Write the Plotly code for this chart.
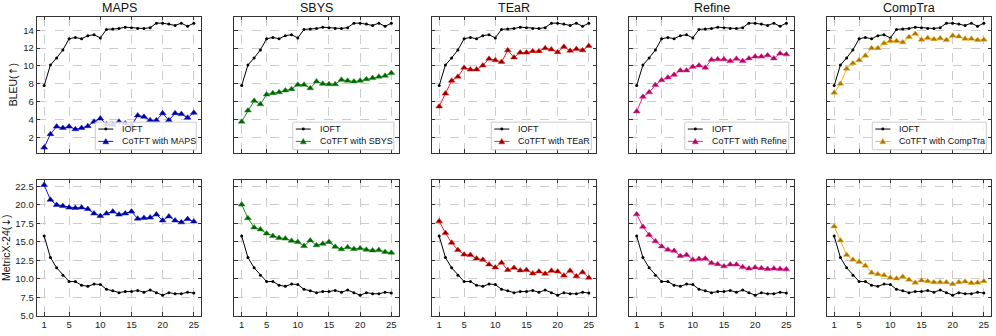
import plotly.graph_objects as go

epochs = list(range(1, 26))
methods = ["MAPS", "SBYS", "TEaR", "Refine", "CompTra"]

# IOFT baseline (same in every panel)
ioft_bleu = [7.8, 10.1, 10.9, 11.8, 13.05, 13.2, 13.05, 13.4, 13.5, 13.15,
             14.1, 14.15, 14.2, 14.35, 14.3, 14.2, 14.2, 14.3, 14.8, 14.8,
             14.7, 14.55, 14.8, 14.45, 14.8]
ioft_metricx = [15.8, 12.9, 11.5, 10.5, 9.65, 9.65, 9.15, 9.0, 9.3, 9.25,
                8.6, 8.4, 8.15, 8.3, 8.3, 8.45, 8.2, 8.5, 8.15, 7.8,
                8.15, 8.0, 8.0, 8.2, 8.1]

# CoTFT runs
maps_bleu = [0.85, 2.35, 3.2, 3.05, 3.2, 2.9, 3.05, 3.25, 3.75, 4.1,
             3.45, 3.4, 3.75, 3.55, 3.3, 4.45, 4.3, 3.9, 3.9, 4.7,
             3.9, 4.7, 4.6, 4.2, 4.75]
maps_metricx = [22.7, 20.7, 20.0, 19.85, 19.65, 19.6, 19.65, 19.45, 18.85, 18.5,
                18.85, 19.1, 18.7, 18.85, 19.1, 18.15, 18.25, 18.3, 18.7, 17.9,
                18.45, 17.9, 17.65, 18.1, 17.75]
sbys_bleu = [3.75, 5.0, 6.1, 5.7, 6.8, 6.95, 7.05, 7.25, 7.4, 7.9,
             7.9, 7.5, 8.25, 8.0, 7.95, 7.95, 8.45, 8.35, 8.25, 8.35,
             8.5, 8.65, 8.8, 8.9, 9.2]
sbys_metricx = [20.05, 18.2, 16.95, 16.7, 16.15, 15.8, 15.55, 15.45, 15.15, 15.0,
                14.45, 15.2, 14.55, 14.75, 15.0, 14.35, 14.0, 14.3, 14.05, 14.15,
                13.95, 13.85, 13.9, 13.65, 13.55]
tear_bleu = [5.45, 6.9, 8.35, 8.8, 9.8, 9.6, 9.6, 10.05, 10.8, 10.65,
             10.45, 11.75, 10.95, 11.5, 11.5, 11.65, 11.65, 12.0, 11.85, 11.55,
             12.15, 11.7, 11.9, 11.75, 12.25]
tear_metricx = [17.8, 16.2, 14.9, 13.9, 13.3, 13.25, 12.75, 12.6, 11.95, 11.55,
                12.2, 11.2, 11.5, 11.15, 11.2, 10.75, 11.0, 10.7, 11.1, 11.0,
                10.45, 11.1, 10.35, 10.9, 10.15]
refine_bleu = [4.9, 6.55, 7.05, 7.85, 8.4, 8.7, 9.0, 9.5, 9.5, 9.9,
               10.05, 9.8, 10.7, 10.75, 10.75, 10.55, 10.8, 10.55, 10.85, 11.05,
               11.05, 11.2, 10.85, 11.4, 11.3]
refine_metricx = [18.75, 17.05, 15.95, 15.1, 14.4, 13.95, 13.8, 13.1, 13.25, 12.6,
                  12.7, 12.75, 12.15, 12.0, 11.7, 11.95, 11.95, 11.6, 11.4, 11.55,
                  11.45, 11.35, 11.4, 11.35, 11.3]
comptra_bleu = [7.0, 8.0, 9.7, 10.3, 10.65, 11.15, 12.0, 12.0, 12.55, 12.8,
                12.8, 12.65, 13.25, 13.6, 12.95, 13.15, 13.0, 13.1, 12.9, 13.4,
                13.3, 13.05, 13.05, 12.9, 12.95]
comptra_metricx = [17.1, 15.2, 13.25, 12.6, 12.3, 11.8, 10.85, 10.65, 10.5, 10.15,
                   10.05, 10.3, 9.9, 9.5, 9.8, 9.7, 9.55, 9.55, 9.55, 9.3,
                   9.55, 9.65, 9.45, 9.5, 9.7]

bleu = [maps_bleu, sbys_bleu, tear_bleu, refine_bleu, comptra_bleu]
metricx = [maps_metricx, sbys_metricx, tear_metricx, refine_metricx, comptra_metricx]
line_colors = ["#1414e6", "#1e8c1e", "#ff1a1a", "#ff1a8c", "#ffae1a"]
marker_colors = ["#00008b", "#006400", "#8b0000", "#9b1060", "#a0780a"]

W, H = 996, 336
FONT = "Liberation Sans, DejaVu Sans, sans-serif"
ARROW = '<span style="font-family:DejaVu Sans">{}</span>'

fig = go.Figure()

x_left = [36.7 + i * 197.5 for i in range(5)]
pw = 164.6
rows_px = [(17, 155), (182.3, 320.7)]
yranges = [[0.27, 15.52], [5.0, 23.43]]
ytitles = ["BLEU(" + ARROW.format("↑") + ")", "MetricX-24(" + ARROW.format("↓") + ")"]
legend_w = [101, 101, 100, 104, 114]

layout = {}
for r in range(2):
    for c in range(5):
        k = r * 5 + c + 1
        xa = "xaxis" if k == 1 else f"xaxis{k}"
        ya = "yaxis" if k == 1 else f"yaxis{k}"
        xs = "x" if k == 1 else f"x{k}"
        ys = "y" if k == 1 else f"y{k}"
        series = bleu[c] if r == 0 else metricx[c]
        base = ioft_bleu if r == 0 else ioft_metricx
        fig.add_trace(go.Scatter(
            x=epochs, y=base, mode="lines+markers", name="IOFT",
            line=dict(color="black", width=1), marker=dict(symbol="circle", size=3, color="black"),
            xaxis=xs, yaxis=ys, showlegend=False))
        fig.add_trace(go.Scatter(
            x=epochs, y=series, mode="lines+markers", name=f"CoTFT with {methods[c]}",
            line=dict(color=line_colors[c], width=1),
            marker=dict(symbol="triangle-up", size=6, color=marker_colors[c],
                        line=dict(color=line_colors[c], width=0.5)),
            xaxis=xs, yaxis=ys, showlegend=False))

        axis_common = dict(
            showline=True, linecolor="#333333", linewidth=1, mirror="allticks",
            ticks="inside", ticklen=3.5, tickcolor="#333333",
            showgrid=True, gridcolor="#cccccc", griddash="dash", gridwidth=0.8,
            zeroline=False, tickfont=dict(size=9.5, color="#222222", family=FONT))
        layout[xa] = dict(
            axis_common, anchor=ys,
            domain=[x_left[c] / W, (x_left[c] + pw) / W],
            range=[-0.2, 26.2], tickvals=[1, 5, 10, 15, 20, 25],
            showticklabels=(r == 1))
        layout[ya] = dict(
            axis_common, anchor=xs,
            domain=[1 - rows_px[r][1] / H, 1 - rows_px[r][0] / H],
            range=yranges[r],
            tickvals=[2, 4, 6, 8, 10, 12, 14] if r == 0 else [5, 7.5, 10, 12.5, 15, 17.5, 20, 22.5],
            tickformat="" if r == 0 else ".1f",
            showticklabels=(c == 0))
        if c == 0:
            layout[ya]["title"] = dict(text=ytitles[r], font=dict(size=10.5, family=FONT, color="#111111"),
                                       standoff=3)

# hand-built compact legends (matplotlib style) in the lower right of each top panel
shapes = []
annotations = []


def px(x):
    return x / W


def py(y):
    return 1 - y / H


for c in range(5):
    right = x_left[c] + pw - 5
    left = right - legend_w[c]
    bottom = rows_px[0][1] - 3
    top = bottom - 28
    shapes.append(dict(type="rect", xref="paper", yref="paper",
                       x0=px(left), x1=px(right), y0=py(bottom), y1=py(top),
                       fillcolor="rgba(255,255,255,0.85)", line=dict(color="#cccccc", width=1)))
    entries = [("IOFT", "black", "black", "dot"), (f"CoTFT with {methods[c]}", line_colors[c], marker_colors[c], "tri")]
    for i, (label, lc, mc, kind) in enumerate(entries):
        yc = top + 7 + i * 12.5
        shapes.append(dict(type="line", xref="paper", yref="paper",
                           x0=px(left + 3), x1=px(left + 18), y0=py(yc), y1=py(yc),
                           line=dict(color=lc, width=1)))
        xm = left + 10.5
        if kind == "dot":
            shapes.append(dict(type="circle", xref="paper", yref="paper",
                               x0=px(xm - 1.5), x1=px(xm + 1.5), y0=py(yc + 1.5), y1=py(yc - 1.5),
                               fillcolor=mc, line=dict(color=mc, width=0)))
        else:
            path = (f"M {px(xm - 3)},{py(yc + 2.5)} L {px(xm + 3)},{py(yc + 2.5)} "
                    f"L {px(xm)},{py(yc - 3)} Z")
            shapes.append(dict(type="path", xref="paper", yref="paper", path=path,
                               fillcolor=mc, line=dict(color=lc, width=0.5)))
        annotations.append(dict(
            text=label, x=px(left + 25), y=py(yc), xref="paper", yref="paper",
            xanchor="left", yanchor="middle", showarrow=False,
            font=dict(size=9, family=FONT, color="#111111")))

for c in range(5):
    annotations.append(dict(
        text=methods[c], x=px(x_left[c] + pw / 2), y=py(8), xref="paper", yref="paper",
        xanchor="center", yanchor="middle", showarrow=False,
        font=dict(size=12.5, family=FONT, color="#111111")))

fig.update_layout(
    width=W, height=H, margin=dict(l=0, r=0, t=0, b=0),
    paper_bgcolor="white", plot_bgcolor="white", showlegend=False,
    font=dict(family=FONT), annotations=annotations, shapes=shapes, **layout)

# drop the default 8px page margin so the figure sits at the window's top-left corner
fig.write_html("out.html", config={"displayModeBar": False},
               post_script="document.body.style.margin='0px';")
